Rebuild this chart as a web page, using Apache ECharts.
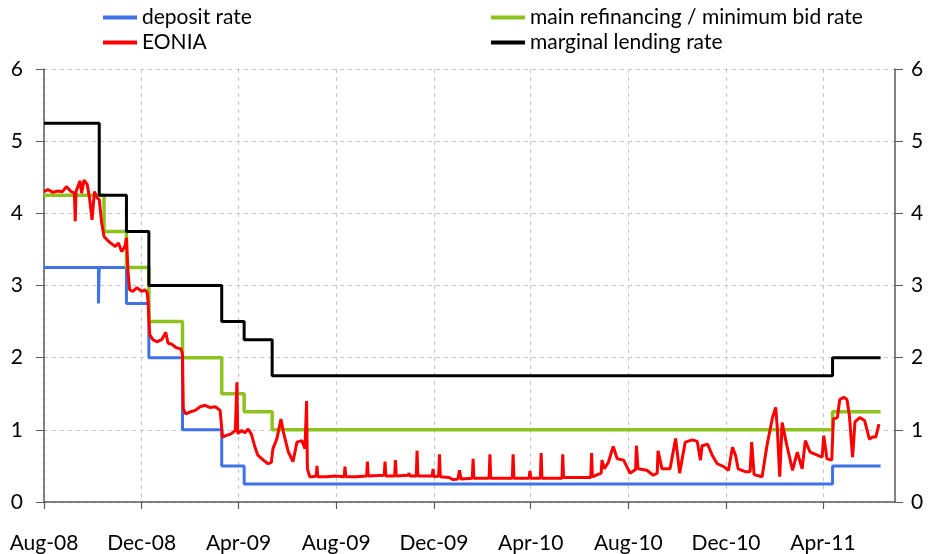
<!DOCTYPE html>
<html><head><meta charset="utf-8">
<script src="https://cdn.jsdelivr.net/npm/echarts@6/dist/echarts.min.js"></script>
<style>html,body{margin:0;padding:0;background:#fff}#c{width:928px;height:554px}</style>
</head><body><div id="c"></div><script>
// ---- tick labels ----
const tickDates = ['2008-08-01','2008-12-01','2009-04-01','2009-08-01','2009-12-01','2010-04-01','2010-08-01','2010-12-01','2011-04-01'];
const tickLabels = ['Aug-08','Dec-08','Apr-09','Aug-09','Dec-09','Apr-10','Aug-10','Dec-10','Apr-11'];

// ---- ECB policy rates (step changes) ----
const depositDates = ['2008-08-01','2008-10-08','2008-10-09','2008-11-12','2008-12-10','2009-01-21','2009-03-11','2009-04-08','2011-04-13','2011-06-12'];
const depositValues = [3.25,2.75,3.25,2.75,2.00,1.00,0.50,0.25,0.50,0.50];

const mroDates = ['2008-08-01','2008-10-15','2008-11-12','2008-12-10','2009-01-21','2009-03-11','2009-04-08','2009-05-13','2011-04-13','2011-06-12'];
const mroValues = [4.25,3.75,3.25,2.50,2.00,1.50,1.25,1.00,1.25,1.25];

const mlfDates = ['2008-08-01','2008-10-09','2008-11-12','2008-12-10','2009-03-11','2009-04-08','2009-05-13','2011-04-13','2011-06-12'];
const mlfValues = [5.25,4.25,3.75,3.00,2.50,2.25,1.75,2.00,2.00];

// ---- EONIA ----
const eoniaDates = [
'2008-08-01','2008-08-06','2008-08-12','2008-08-18','2008-08-24','2008-08-29','2008-09-04','2008-09-08','2008-09-09','2008-09-10',
'2008-09-15','2008-09-17','2008-09-20','2008-09-24','2008-09-27','2008-09-30','2008-10-03','2008-10-06','2008-10-09','2008-10-12',
'2008-10-15','2008-10-19','2008-10-23','2008-10-29','2008-11-02','2008-11-06','2008-11-10','2008-11-12','2008-11-14','2008-11-16',
'2008-11-20','2008-11-25','2008-12-01','2008-12-05','2008-12-08','2008-12-09','2008-12-11','2008-12-15','2008-12-20','2008-12-26',
'2008-12-31','2009-01-03','2009-01-07','2009-01-13','2009-01-19','2009-01-21','2009-01-22','2009-01-25','2009-01-31','2009-02-06',
'2009-02-12','2009-02-18','2009-02-24','2009-03-03','2009-03-09','2009-03-11','2009-03-12','2009-03-16','2009-03-22','2009-03-28',
'2009-03-30','2009-03-31','2009-04-05','2009-04-09','2009-04-13','2009-04-17','2009-04-21','2009-04-25','2009-05-02','2009-05-08',
'2009-05-12','2009-05-14','2009-05-19','2009-05-24','2009-05-27','2009-06-02','2009-06-08','2009-06-13','2009-06-19','2009-06-23',
'2009-06-25','2009-06-26','2009-06-29',
'2009-07-03','2009-07-07','2009-07-08','2009-07-09','2009-07-20','2009-07-31','2009-08-11','2009-08-12','2009-08-13','2009-08-25',
'2009-09-08','2009-09-09','2009-09-10','2009-09-30','2009-10-01','2009-10-02','2009-10-13','2009-10-14','2009-10-15','2009-10-30',
'2009-10-31','2009-11-01','2009-11-09','2009-11-10','2009-11-11','2009-11-29','2009-11-30','2009-12-01','2009-12-07','2009-12-08',
'2009-12-09','2009-12-20','2009-12-25','2009-12-31','2010-01-02','2010-01-04','2010-01-18','2010-01-19','2010-01-20','2010-02-08',
'2010-02-09','2010-02-10','2010-02-25','2010-03-09','2010-03-10','2010-03-11','2010-03-30','2010-03-31','2010-04-01','2010-04-13',
'2010-04-14','2010-04-15','2010-04-28','2010-05-10','2010-05-11','2010-05-12','2010-05-30','2010-06-15','2010-06-16','2010-06-17',
'2010-06-28','2010-06-29','2010-07-02','2010-07-07','2010-07-13','2010-07-18','2010-07-26','2010-08-03','2010-08-10','2010-08-11',
'2010-08-13','2010-08-24','2010-09-01','2010-09-06','2010-09-07','2010-09-12','2010-09-22','2010-09-29','2010-10-04','2010-10-11',
'2010-10-20','2010-10-26','2010-10-30','2010-11-01','2010-11-08','2010-11-14','2010-11-20','2010-11-28','2010-12-04','2010-12-09',
'2010-12-13','2010-12-16','2010-12-25','2010-12-31','2011-01-02','2011-01-05','2011-01-15','2011-01-21','2011-01-28','2011-02-01',
'2011-02-03','2011-02-06','2011-02-09','2011-02-15','2011-02-22','2011-02-28','2011-03-06','2011-03-10','2011-03-16','2011-03-25',
'2011-03-31','2011-04-02','2011-04-06','2011-04-12','2011-04-14','2011-04-19','2011-04-22','2011-04-27','2011-05-01','2011-05-04',
'2011-05-08','2011-05-11','2011-05-17','2011-05-23','2011-05-29','2011-06-02','2011-06-06','2011-06-10'
];
const eoniaValues = [
4.30,4.33,4.29,4.31,4.30,4.37,4.30,4.28,3.89,4.30,
4.45,4.28,4.46,4.40,4.20,3.91,4.30,4.22,4.19,3.87,
3.68,3.63,3.59,3.54,3.59,3.47,3.54,3.66,3.18,2.94,
2.92,2.97,2.92,2.94,2.90,2.77,2.32,2.25,2.22,2.25,
2.35,2.20,2.19,2.14,2.12,2.05,1.29,1.22,1.25,1.27,
1.32,1.34,1.31,1.32,1.27,1.25,0.90,0.92,0.94,0.99,
1.66,0.95,0.99,0.96,1.01,0.94,0.78,0.65,0.58,0.53,
0.55,0.74,0.88,1.15,0.97,0.70,0.56,0.83,0.85,0.74,
1.40,0.46,0.35,
0.35,0.36,0.50,0.35,0.35,0.36,0.35,0.49,0.35,0.35,
0.36,0.56,0.36,0.37,0.56,0.36,0.36,0.58,0.36,0.37,
0.40,0.36,0.36,0.71,0.36,0.36,0.46,0.35,0.36,0.66,
0.35,0.34,0.31,0.32,0.44,0.32,0.33,0.60,0.33,0.33,
0.66,0.33,0.33,0.33,0.66,0.33,0.33,0.43,0.33,0.33,
0.68,0.33,0.33,0.33,0.66,0.34,0.34,0.34,0.68,0.35,
0.40,0.58,0.46,0.55,0.77,0.60,0.58,0.40,0.45,0.78,
0.46,0.44,0.37,0.40,0.71,0.46,0.46,0.88,0.40,0.83,
0.86,0.84,0.58,0.78,0.80,0.64,0.53,0.49,0.44,0.76,
0.64,0.46,0.42,0.42,0.83,0.38,0.35,0.78,1.17,1.31,
1.02,0.35,1.10,0.78,0.44,0.69,0.46,0.85,0.69,0.65,
0.62,0.92,0.60,0.58,1.15,1.17,1.42,1.45,1.42,1.20,
0.62,1.11,1.17,1.13,0.87,0.90,0.90,1.08
];

// ---- helpers ----
const toTs = s => { const p = s.split('-').map(Number); return Date.UTC(p[0], p[1]-1, p[2]); };
const pairs = (ds, vs) => ds.map((d, i) => [toTs(d), vs[i]]);
const tickTs = tickDates.map(toTs);
const labelOf = {};
tickTs.forEach((t, i) => { labelOf[t] = tickLabels[i]; });

const FONT = 'Lato';
const FS = 21;
const AXIS = '#5a5a5a';
const GRID = '#c8c8c8';
const C_DEP = '#3f72e6', C_MRO = '#8cc31e', C_MLF = '#000000', C_EON = '#ff0000';

const chart = echarts.init(document.getElementById('c'), null, { renderer: 'canvas' });
chart.setOption({
  animation: false,
  backgroundColor: '#ffffff',
  grid: { left: 44, right: 33, top: 69, bottom: 51, containLabel: false },
  legend: [
    { data: ['deposit rate', 'EONIA'], left: 103, top: 7, padding: 0, orient: 'vertical', itemWidth: 34, itemHeight: 4, itemGap: 4, icon: 'rect',
      textStyle: { fontFamily: FONT, fontSize: FS, color: '#000' } },
    { data: ['main refinancing / minimum bid rate', 'marginal lending rate'], left: 491, top: 7, padding: 0, orient: 'vertical', itemWidth: 34, itemHeight: 4, itemGap: 4, icon: 'rect',
      textStyle: { fontFamily: FONT, fontSize: FS, color: '#000' } }
  ],
  xAxis: {
    type: 'value', min: toTs('2008-08-01'), max: toTs('2011-06-30'),
    axisLine: { show: true, lineStyle: { color: AXIS, width: 1.5 } },
    axisTick: { show: true, customValues: tickTs, length: 7, inside: false, lineStyle: { color: AXIS, width: 1.2 } },
    axisLabel: { show: true, customValues: tickTs, formatter: v => labelOf[v] || '', fontFamily: FONT, fontSize: FS, color: '#000', margin: 31, hideOverlap: false },
    splitLine: { show: true, lineStyle: { type: [4, 4], color: GRID, width: 1 } }
  },
  yAxis: [
    { type: 'value', min: 0, max: 6, interval: 1, position: 'left',
      axisLine: { show: true, lineStyle: { color: AXIS, width: 1.5 } },
      axisTick: { show: true, length: 8, lineStyle: { color: AXIS } },
      axisLabel: { fontFamily: FONT, fontSize: FS, color: '#000', margin: 21 },
      splitLine: { show: true, lineStyle: { type: [4, 4], color: GRID, width: 1 } } },
    { type: 'value', min: 0, max: 6, interval: 1, position: 'right',
      axisLine: { show: true, lineStyle: { color: AXIS, width: 1.5 } },
      axisTick: { show: true, length: 8, lineStyle: { color: AXIS } },
      axisLabel: { fontFamily: FONT, fontSize: FS, color: '#000', margin: 16 },
      splitLine: { show: false } }
  ],
  series: [
    { name: 'deposit rate', type: 'line', step: 'end', data: pairs(depositDates, depositValues), showSymbol: false, symbol: 'none',
      lineStyle: { color: C_DEP, width: 3 }, itemStyle: { color: C_DEP }, z: 2 },
    { name: 'main refinancing / minimum bid rate', type: 'line', step: 'end', data: pairs(mroDates, mroValues), showSymbol: false, symbol: 'none',
      lineStyle: { color: C_MRO, width: 3.5 }, itemStyle: { color: C_MRO }, z: 3 },
    { name: 'marginal lending rate', type: 'line', step: 'end', data: pairs(mlfDates, mlfValues), showSymbol: false, symbol: 'none',
      lineStyle: { color: C_MLF, width: 3 }, itemStyle: { color: C_MLF }, z: 4 },
    { name: 'EONIA', type: 'line', data: pairs(eoniaDates, eoniaValues), showSymbol: false, symbol: 'none',
      lineStyle: { color: C_EON, width: 3 }, itemStyle: { color: C_EON }, z: 5 }
  ]
});
</script></body></html>
